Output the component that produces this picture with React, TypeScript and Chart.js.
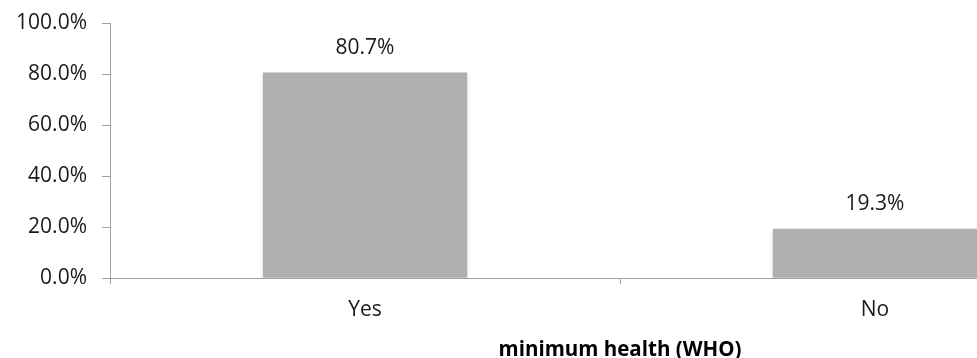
import React, { useEffect, useRef } from "react";
import { Chart, registerables } from "chart.js";

Chart.register(...registerables);

const categories = ["Yes", "No"];
const values = [80.7, 19.3];
const valueLabels = ["80.7%", "19.3%"];
const yTicks = [0, 20, 40, 60, 80, 100];
const axisTitle = "minimum health (WHO)";

const FONT = "'Open Sans', 'Liberation Sans', sans-serif";
const TEXT = "#1a1a1a";
const AXIS = "#a0a0a0";

const labelPlugin = {
  id: "valueLabels",
  afterDatasetsDraw(chart: any) {
    const ctx = chart.ctx;
    const meta = chart.getDatasetMeta(0);
    ctx.save();
    ctx.font = `21px ${FONT}`;
    ctx.fillStyle = TEXT;
    ctx.textAlign = "center";
    ctx.textBaseline = "middle";
    meta.data.forEach((bar: any, i: number) => {
      ctx.fillText(valueLabels[i], bar.x, bar.y - 25);
    });
    ctx.restore();
  },
};

const shadowPlugin = {
  id: "barShadow",
  beforeDatasetsDraw(chart: any) {
    const ctx = chart.ctx;
    ctx.save();
    ctx.shadowColor = "rgba(0,0,0,0.25)";
    ctx.shadowBlur = 3;
    ctx.shadowOffsetX = 0;
    ctx.shadowOffsetY = 1;
  },
  afterDatasetsDraw(chart: any) {
    chart.ctx.restore();
  },
};

export default function App() {
  const ref = useRef<HTMLCanvasElement>(null);
  useEffect(() => {
    if (!ref.current) return;
    const chart = new Chart(ref.current, {
      type: "bar",
      data: {
        labels: categories,
        datasets: [
          {
            data: values,
            backgroundColor: "#b0b0b0",
            borderWidth: 0,
            barPercentage: 0.4,
            categoryPercentage: 1,
          },
        ],
      },
      plugins: [shadowPlugin, labelPlugin],
      options: {
        responsive: false,
        animation: false,
        layout: { padding: { top: 22, right: 10, left: 0, bottom: 0 } },
        plugins: { legend: { display: false }, tooltip: { enabled: false } },
        scales: {
          x: {
            offset: true,
            grid: {
              offset: true,
              drawOnChartArea: false,
              drawTicks: true,
              tickLength: 6,
              color: AXIS,
            },
            border: { color: AXIS, width: 1 },
            ticks: {
              color: TEXT,
              padding: 13,
              font: { family: FONT, size: 21 },
            },
            title: {
              display: true,
              text: axisTitle,
              color: "#000",
              font: { family: FONT, size: 20.5, weight: "bold", lineHeight: 0.8 },
              padding: { top: 0, bottom: 0 },
            },
            afterFit(scale: any) {
              scale.height = 80;
            },
          },
          y: {
            min: 0,
            max: 100,
            afterBuildTicks(scale: any) {
              scale.ticks = yTicks.map((v) => ({ value: v }));
            },
            grid: {
              drawOnChartArea: false,
              drawTicks: true,
              tickLength: 8,
              color: AXIS,
            },
            border: { color: AXIS, width: 1 },
            ticks: {
              color: TEXT,
              padding: 15,
              font: { family: FONT, size: 21, lineHeight: 0.8 },
              callback: (v: any) => Number(v).toFixed(1) + "%",
            },
            afterFit(scale: any) {
              scale.width = 110;
            },
          },
        },
      },
    });
    return () => chart.destroy();
  }, []);
  return (
    <div
      style={{
        position: "fixed",
        left: 0,
        top: 0,
        width: 977,
        height: 358,
        overflow: "hidden",
        background: "#fff",
      }}
    >
      <canvas ref={ref} width={1140} height={358} style={{ display: "block" }} />
    </div>
  );
}
